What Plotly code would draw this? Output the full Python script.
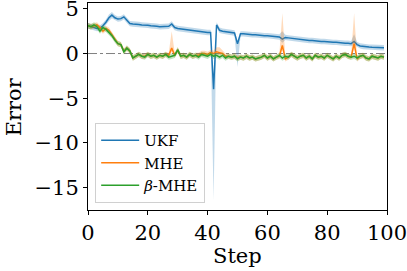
import plotly.graph_objects as go

steps = list(range(100))

ukf = [3.1, 3.0, 2.9, 2.8, 2.85, 3.1, 3.5, 4.0, 4.3, 4.0, 3.85, 3.9, 4.1, 3.7, 3.35, 3.3, 3.3, 3.25, 3.2, 3.2,
       3.15, 3.1, 3.1, 3.05, 3.0, 3.0, 2.98, 3.05, 3.3, 2.9, 2.8, 2.75, 2.7, 2.65, 2.6, 2.55, 2.5, 2.45, 2.4, 2.38,
       2.35, 2.35, -4.0, 3.2, 2.6, 2.5, 2.45, 2.4, 2.35, 2.3, 1.1, 2.2, 2.2, 2.15, 2.15, 2.1, 2.1, 2.05, 2.05, 2.0,
       2.0, 1.95, 1.9, 1.88, 1.85, 1.6, 1.8, 1.75, 1.7, 1.65, 1.6, 1.55, 1.5, 1.5, 1.45, 1.45, 1.4, 1.4, 1.35, 1.35,
       1.3, 1.3, 1.25, 1.25, 1.2, 1.2, 1.15, 1.15, 1.1, 1.35, 1.0, 0.85, 0.78, 0.74, 0.72, 0.7, 0.68, 0.67, 0.66, 0.65]
ukf_lo = [0.3, 0.3, 0.3, 0.3, 0.3, 0.3, 0.3, 0.35, 0.35, 0.3, 0.3, 0.3, 0.3, 0.3, 0.3, 0.3, 0.3, 0.3, 0.3, 0.3,
          0.3, 0.3, 0.3, 0.3, 0.3, 0.3, 0.3, 0.3, 0.3, 0.3, 0.3, 0.3, 0.3, 0.3, 0.3, 0.3, 0.3, 0.3, 0.3, 0.3,
          0.3, 0.3, 12.4, 0.3, 0.3, 0.3, 0.3, 0.3, 0.3, 0.3, 2.6, 0.3, 0.3, 0.3, 0.3, 0.3, 0.3, 0.3, 0.3, 0.3,
          0.3, 0.3, 0.3, 0.3, 0.3, 0.4, 0.3, 0.3, 0.3, 0.3, 0.3, 0.3, 0.3, 0.3, 0.3, 0.3, 0.3, 0.3, 0.3, 0.3,
          0.3, 0.3, 0.3, 0.3, 0.3, 0.3, 0.3, 0.3, 0.3, 0.4, 0.3, 0.3, 0.3, 0.3, 0.3, 0.3, 0.3, 0.3, 0.3, 0.3]
ukf_hi = [0.3, 0.3, 0.3, 0.3, 0.3, 0.3, 0.3, 0.35, 0.35, 0.3, 0.3, 0.3, 0.3, 0.3, 0.3, 0.3, 0.3, 0.3, 0.3, 0.3,
          0.3, 0.3, 0.3, 0.3, 0.3, 0.3, 0.3, 0.3, 0.3, 0.3, 0.3, 0.3, 0.3, 0.3, 0.3, 0.3, 0.3, 0.3, 0.3, 0.3,
          0.3, 0.3, 0.3, 0.3, 0.3, 0.3, 0.3, 0.3, 0.3, 0.3, 0.3, 0.3, 0.3, 0.3, 0.3, 0.3, 0.3, 0.3, 0.3, 0.3,
          0.3, 0.3, 0.3, 0.3, 0.3, 0.9, 0.3, 0.3, 0.3, 0.3, 0.3, 0.3, 0.3, 0.3, 0.3, 0.3, 0.3, 0.3, 0.3, 0.3,
          0.3, 0.3, 0.3, 0.3, 0.3, 0.3, 0.3, 0.3, 0.3, 0.8, 0.3, 0.3, 0.3, 0.3, 0.3, 0.3, 0.3, 0.3, 0.3, 0.3]

mhe = [3.1, 3.0, 3.1, 3.2, 2.9, 2.5, 2.8, 2.6, 2.1, 1.6, 1.1, 1.0, 0.25, 0.6, 0.3, -0.5, -0.3, -0.1, -0.3, -0.3,
       -0.1, -0.3, -0.2, -0.4, -0.2, -0.3, -0.1, -0.2, 0.6, -0.2, 0.4, -0.3, -0.2, -0.4, -0.1, -0.3, -0.2, -0.2, 0.0, 0.0,
       -0.1, 0.1, 0.0, 0.2, 0.1, 0.0, -0.3, -0.3, -0.4, -0.3, -0.5, -0.4, -0.5, -0.3, -0.5, -0.4, -0.6, -0.5, -0.4, -0.2,
       -0.5, -0.3, -0.6, -0.4, -0.3, 0.9, -0.6, -0.4, -0.1, -0.3, -0.5, -0.3, -0.2, -0.5, -0.3, -0.6, -0.2, -0.4, -0.3, -0.5,
       -0.2, -0.4, -0.6, -0.3, -0.5, -0.2, -0.1, -0.3, -0.4, 1.1, -0.6, -0.3, -0.2, -0.5, -0.6, -0.3, -0.4, -0.5, -0.3, -0.4]
mhe_lo = [0.3, 0.3, 0.3, 0.3, 0.3, 0.3, 0.3, 0.3, 0.3, 0.3, 0.3, 0.3, 0.3, 0.3, 0.3, 0.3, 0.3, 0.3, 0.3, 0.3,
          0.3, 0.3, 0.3, 0.3, 0.3, 0.3, 0.3, 0.3, 0.4, 0.3, 0.3, 0.3, 0.3, 0.3, 0.3, 0.3, 0.3, 0.3, 0.3, 0.3,
          0.3, 0.3, 0.3, 0.3, 0.3, 0.3, 0.3, 0.3, 0.3, 0.3, 0.3, 0.3, 0.3, 0.3, 0.3, 0.3, 0.3, 0.3, 0.3, 0.3,
          0.3, 0.3, 0.3, 0.3, 0.3, 0.5, 0.3, 0.3, 0.3, 0.3, 0.3, 0.3, 0.3, 0.3, 0.3, 0.3, 0.3, 0.3, 0.3, 0.3,
          0.3, 0.3, 0.3, 0.3, 0.3, 0.3, 0.3, 0.3, 0.3, 0.5, 0.3, 0.3, 0.3, 0.3, 0.3, 0.3, 0.3, 0.3, 0.3, 0.3]
mhe_hi = [0.3, 0.3, 0.3, 0.3, 0.3, 0.3, 0.3, 0.3, 0.3, 0.3, 0.3, 0.3, 0.3, 0.3, 0.3, 0.3, 0.3, 0.3, 0.3, 0.3,
          0.3, 0.3, 0.3, 0.3, 0.3, 0.3, 0.3, 0.3, 1.9, 0.3, 0.3, 0.3, 0.3, 0.3, 0.3, 0.3, 0.3, 0.3, 0.3, 0.3,
          0.3, 0.3, 0.3, 0.5, 0.6, 0.3, 0.3, 0.3, 0.3, 0.3, 0.3, 0.3, 0.3, 0.3, 0.3, 0.3, 0.3, 0.3, 0.3, 0.3,
          0.3, 0.3, 0.3, 0.3, 0.3, 3.6, 0.3, 0.3, 0.3, 0.3, 0.3, 0.3, 0.3, 0.3, 0.3, 0.3, 0.3, 0.3, 0.3, 0.3,
          0.3, 0.3, 0.3, 0.3, 0.3, 0.3, 0.3, 0.3, 0.3, 3.4, 0.3, 0.3, 0.3, 0.3, 0.3, 0.3, 0.3, 0.3, 0.3, 0.3]

bmhe = [3.1, 3.0, 3.2, 3.0, 2.5, 2.9, 2.7, 2.4, 2.0, 1.5, 1.1, 1.0, 0.2, 0.6, 0.3, -0.5, -0.3, -0.1, -0.3, -0.4,
        -0.1, -0.3, -0.2, -0.4, -0.2, -0.3, -0.1, -0.4, -0.3, -0.2, 0.4, -0.3, -0.2, -0.4, -0.1, -0.3, -0.2, -0.4, -0.1, -0.2,
        -0.3, -0.1, -0.3, -0.2, -0.4, -0.2, -0.5, -0.3, -0.4, -0.3, -0.6, -0.4, -0.5, -0.3, -0.5, -0.4, -0.6, -0.5, -0.4, -0.2,
        -0.5, -0.3, -0.6, -0.4, -0.2, -0.5, -0.3, -0.4, -0.1, -0.3, -0.5, -0.3, -0.2, -0.5, -0.3, -0.6, -0.2, -0.4, -0.3, -0.5,
        -0.2, -0.4, -0.6, -0.3, -0.5, -0.2, -0.1, -0.3, -0.4, -0.3, -0.5, -0.3, -0.2, -0.5, -0.6, -0.3, -0.4, -0.5, -0.3, -0.4]
bmhe_lo = [0.3] * 100
bmhe_hi = [0.3] * 100

x_ticks = [0, 20, 40, 60, 80, 100]
y_ticks = [5, 0, -5, -10, -15]
y_tick_text = ["5", "0", "−5", "−10", "−15"]

series = [
    ("UKF", ukf, ukf_lo, ukf_hi, "#1f77b4", "rgba(31,119,180,0.28)"),
    ("MHE", mhe, mhe_lo, mhe_hi, "#ff7f0e", "rgba(255,127,14,0.28)"),
    ("<i>β</i>-MHE", bmhe, bmhe_lo, bmhe_hi, "#2ca02c", "rgba(44,160,44,0.28)"),
]

fig = go.Figure()
for name, m, lo, hi, col, fillc in series:
    upper = [a + b for a, b in zip(m, hi)]
    lower = [a - b for a, b in zip(m, lo)]
    fig.add_trace(go.Scatter(x=steps, y=upper, mode="lines", line=dict(width=0),
                             showlegend=False, hoverinfo="skip"))
    fig.add_trace(go.Scatter(x=steps, y=lower, mode="lines", line=dict(width=0),
                             fill="tonexty", fillcolor=fillc, showlegend=False, hoverinfo="skip"))
    fig.add_trace(go.Scatter(x=steps, y=m, mode="lines", name=name,
                             line=dict(color=col, width=1.5)))

fig.add_shape(type="line", xref="x", yref="y", x0=0, x1=100, y0=0, y1=0,
              line=dict(color="gray", width=1, dash="dashdot"), layer="below")

font_family = "DejaVu Serif"
fig.update_layout(
    width=407, height=271,
    margin=dict(l=88, r=20, t=3, b=61, autoexpand=False),
    paper_bgcolor="white", plot_bgcolor="white",
    font=dict(family=font_family, color="black", size=21),
    showlegend=True,
    legend=dict(x=0.024, y=0.034, xanchor="left", yanchor="bottom",
                traceorder="normal",
                bgcolor="rgba(255,255,255,0.8)", bordercolor="#d0d0d0", borderwidth=1,
                font=dict(family=font_family, size=15), tracegroupgap=0,
                itemwidth=38),
    annotations=[
        dict(text="Step", xref="paper", yref="paper", x=0.5, y=-0.22,
             xanchor="center", yanchor="middle", showarrow=False,
             font=dict(size=21, family=font_family)),
        dict(text="Error", xref="paper", yref="paper", x=-0.248, y=0.5,
             xanchor="center", yanchor="middle", showarrow=False, textangle=-90,
             font=dict(size=21, family=font_family)),
    ],
)
fig.update_xaxes(range=[0, 100], tickvals=x_ticks, automargin=False,
                 ticklabeloverflow="allow",
                 showgrid=False, zeroline=False, showline=True, mirror=True,
                 linecolor="black", linewidth=1, ticks="outside", ticklen=4,
                 tickcolor="black", tickfont=dict(size=21))
fig.update_yaxes(range=[-17.5, 5.65], tickvals=y_ticks, ticktext=y_tick_text,
                 automargin=False, ticklabeloverflow="allow",
                 showgrid=False, zeroline=False, showline=True, mirror=True,
                 linecolor="black", linewidth=1, ticks="outside", ticklen=4,
                 tickcolor="black", tickfont=dict(size=21))

fig.write_html("out.html", config={"displayModeBar": False},
               post_script="document.body.style.margin='0';document.body.style.overflow='hidden';")
